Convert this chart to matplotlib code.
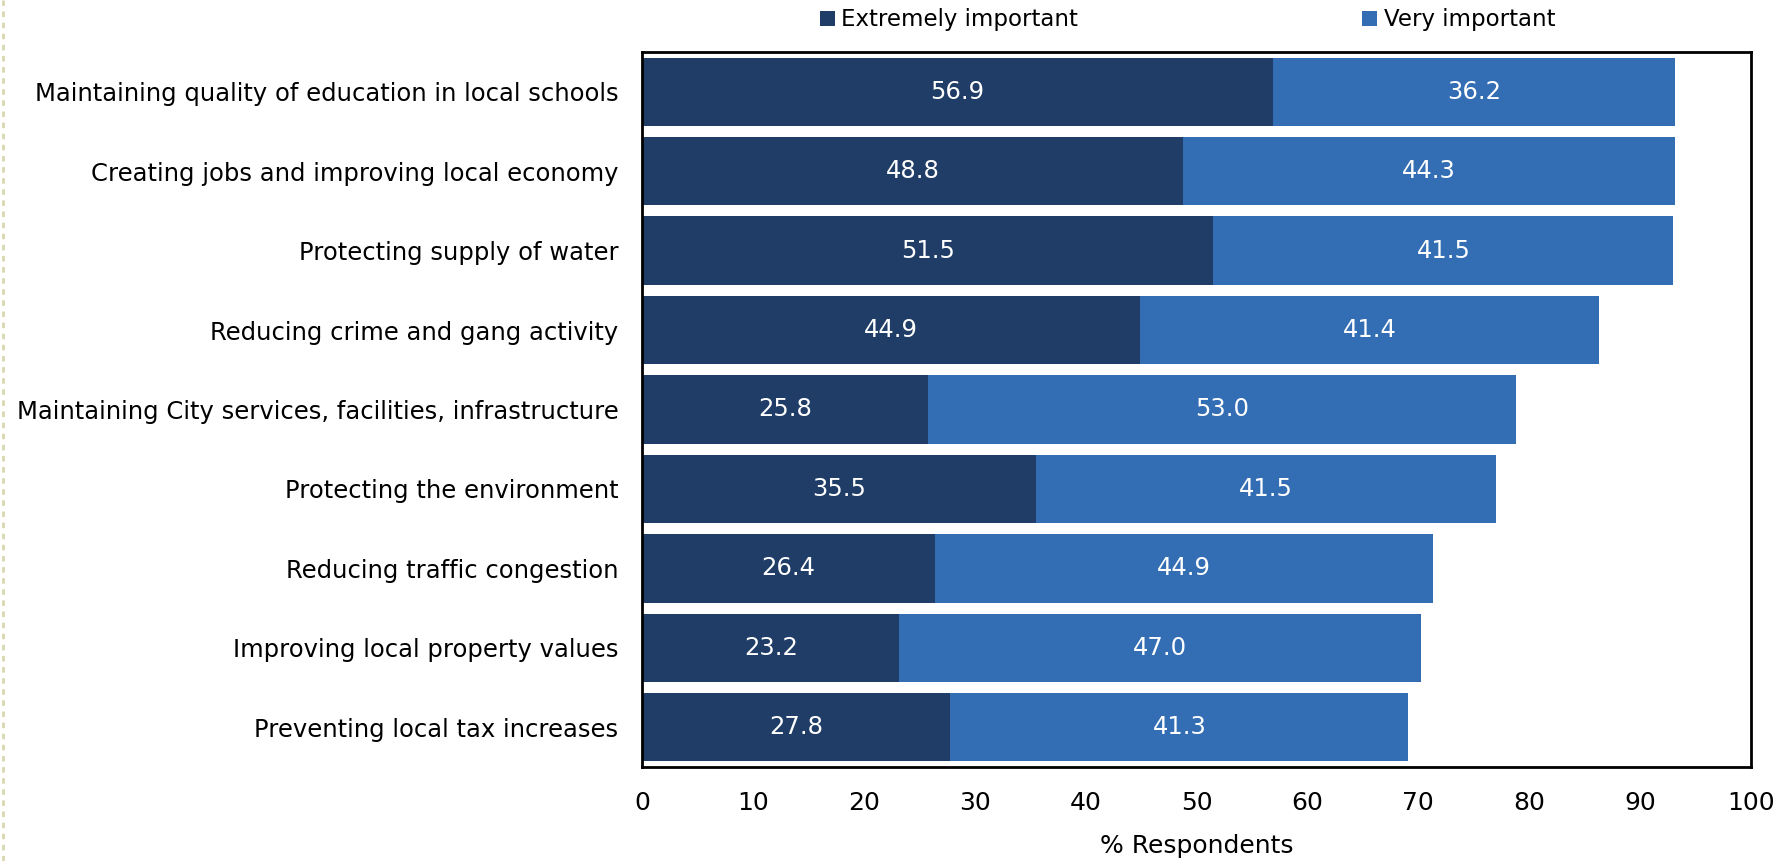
import matplotlib.pyplot as plt
from matplotlib.lines import Line2D
import numpy as np

categories = [
    'Maintaining quality of education in local schools',
    'Creating jobs and improving local economy',
    'Protecting supply of water',
    'Reducing crime and gang activity',
    'Maintaining City services, facilities, infrastructure',
    'Protecting the environment',
    'Reducing traffic congestion',
    'Improving local property values',
    'Preventing local tax increases',
]
extremely = [56.9, 48.8, 51.5, 44.9, 25.8, 35.5, 26.4, 23.2, 27.8]
very = [36.2, 44.3, 41.5, 41.4, 53.0, 41.5, 44.9, 47.0, 41.3]
series_names = ['Extremely important', 'Very important']
colors = ['#1F3D66', '#336EB4']

plt.rcParams['font.family'] = 'DejaVu Sans'

fig = plt.figure(figsize=(17.79, 8.61), dpi=100)
ax = fig.add_axes([0.3609, 0.1092, 0.9843 - 0.3609, 0.9396 - 0.1092])

y = np.arange(len(categories))
b1 = ax.barh(y, extremely, height=0.86, color=colors[0], label=series_names[0])
b2 = ax.barh(y, very, left=extremely, height=0.86, color=colors[1], label=series_names[1])

for bars, vals, lefts in [(b1, extremely, [0] * len(extremely)), (b2, very, extremely)]:
    for bar, v, l in zip(bars, vals, lefts):
        ax.text(l + v / 2, bar.get_y() + bar.get_height() / 2, f'{v:.1f}',
                ha='center', va='center', color='white', fontsize=17.5)

ax.set_xlim(0, 100)
ax.set_ylim(len(categories) - 0.5, -0.5)
ax.set_xticks(range(0, 101, 10))
ax.set_yticks(y)
ax.set_yticklabels(categories, fontsize=17.5)
ax.tick_params(axis='x', length=0, labelsize=18, pad=17)
ax.tick_params(axis='y', length=0, pad=17)
for s in ax.spines.values():
    s.set_linewidth(2)
    s.set_color('black')
ax.set_xlabel('% Respondents', fontsize=18, labelpad=14)

ax.legend(loc='lower center', bbox_to_anchor=(0.492, 1.013), ncol=2, frameon=False,
          fontsize=16.5, handlelength=0.63, handleheight=0.63, handletextpad=0.3,
          columnspacing=12.4, borderaxespad=0.1)

# dotted border on the left edge
fig.add_artist(Line2D([0.0015, 0.0015], [0, 1], transform=fig.transFigure,
                      color='#D8D8B0', linewidth=2, linestyle=(0, (2, 2))))

plt.savefig('out.png')
